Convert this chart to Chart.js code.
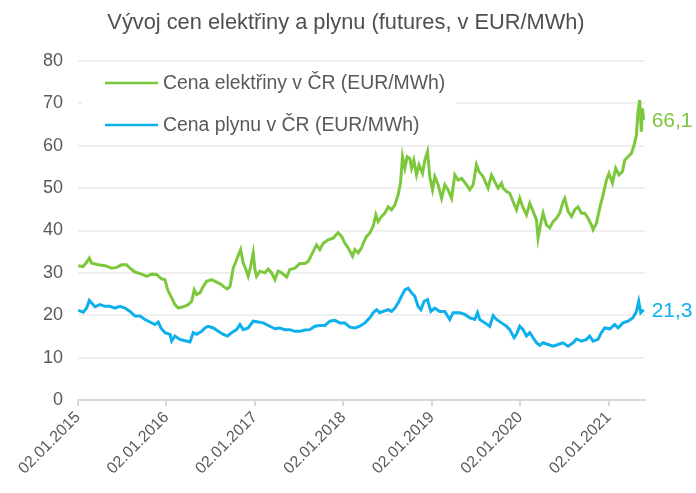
<!DOCTYPE html>
<html>
<head>
<meta charset="utf-8">
<script src="https://cdn.jsdelivr.net/npm/chart.js@4.4.1/dist/chart.umd.min.js"></script>
<style>
  html, body { margin: 0; padding: 0; background: #ffffff; }
  #wrap { width: 696px; height: 493px; }
</style>
</head>
<body>
<div id="wrap"><canvas id="c" width="696" height="493"></canvas></div>
<script>
// ---- Data (time as decimal year, values in EUR/MWh) ----
const chartTitle = "Vývoj cen elektřiny a plynu (futures, v EUR/MWh)";
const seriesNames = ["Cena elektřiny v ČR (EUR/MWh)", "Cena plynu v ČR (EUR/MWh)"];
const tickYears = [2015, 2016, 2017, 2018, 2019, 2020, 2021];
const tickLabels = ["02.01.2015", "02.01.2016", "02.01.2017", "02.01.2018", "02.01.2019", "02.01.2020", "02.01.2021"];

const elecT = [2015.003,2015.056,2015.098,2015.128,2015.155,2015.229,2015.305,2015.381,2015.437,2015.494,2015.550,2015.588,2015.644,2015.720,2015.776,2015.833,2015.889,2015.946,2015.983,
2016.014,2016.059,2016.096,2016.133,2016.190,2016.246,2016.285,2016.314,2016.341,2016.379,2016.416,2016.454,2016.511,2016.567,2016.624,2016.642,2016.687,2016.718,2016.755,2016.793,2016.838,2016.868,2016.898,2016.924,2016.951,2016.981,
2017.000,2017.019,2017.056,2017.113,2017.150,2017.189,2017.226,2017.263,2017.302,2017.358,2017.395,2017.452,2017.508,2017.565,2017.602,2017.641,2017.697,2017.734,2017.772,2017.828,2017.885,2017.941,2017.980,
2018.017,2018.054,2018.104,2018.130,2018.167,2018.206,2018.224,2018.262,2018.299,2018.337,2018.367,2018.393,2018.432,2018.469,2018.506,2018.545,2018.582,2018.619,2018.646,2018.669,2018.695,2018.721,2018.751,2018.771,2018.797,2018.827,2018.856,2018.895,2018.921,2018.951,2018.977,
2019.008,2019.034,2019.071,2019.110,2019.147,2019.184,2019.223,2019.260,2019.297,2019.336,2019.392,2019.429,2019.467,2019.505,2019.534,2019.580,2019.636,2019.675,2019.712,2019.749,2019.788,2019.806,2019.844,2019.881,2019.919,2019.957,2019.994,
2020.032,2020.070,2020.107,2020.145,2020.183,2020.201,2020.228,2020.258,2020.296,2020.333,2020.371,2020.409,2020.446,2020.484,2020.503,2020.540,2020.579,2020.616,2020.653,2020.692,2020.729,2020.766,2020.805,2020.823,2020.861,2020.898,2020.936,2020.974,
2021.003,2021.042,2021.079,2021.116,2021.155,2021.181,2021.218,2021.256,2021.286,2021.313,2021.331,2021.350,2021.369,2021.381,2021.395];
const elecV = [31.7,31.5,32.5,33.5,32.3,31.9,31.7,31.1,31.3,31.9,31.9,31.1,30.2,29.7,29.2,29.7,29.6,28.6,28.4,
26.0,24.1,22.5,21.7,22.0,22.5,23.3,26.0,24.9,25.3,26.8,28.0,28.4,27.8,27.2,26.8,26.2,26.8,31.1,33.1,35.5,32.3,30.8,29.2,31.5,34.7,
30.8,29.2,30.4,30.0,30.9,30.0,28.4,30.4,30.0,29.0,30.8,31.1,32.2,32.2,32.7,34.3,36.6,35.5,37.0,37.8,38.2,39.5,38.6,
37.0,35.9,33.9,35.5,34.7,35.9,37.0,38.6,39.4,41.0,43.7,42.1,43.3,44.1,45.6,44.9,46.0,48.4,51.2,57.4,54.7,57.4,57.0,54.7,56.6,53.1,55.5,53.5,56.6,58.6,52.7,
49.6,52.7,50.8,47.6,50.8,49.6,47.6,53.1,51.9,52.3,50.8,49.6,50.8,55.5,53.9,52.7,50.0,53.1,51.5,50.0,51.2,50.0,49.2,48.8,46.8,44.9,47.6,
45.3,43.7,46.4,44.5,42.5,38.2,41.3,44.1,41.3,40.6,42.1,42.9,44.1,46.8,47.6,44.5,43.3,44.9,45.6,44.1,44.1,42.9,41.3,40.2,41.7,45.3,48.4,51.9,
53.5,51.2,54.7,53.1,53.9,56.6,57.4,58.2,60.1,62.5,68.0,70.8,63.3,68.8,66.1];

const gasT = [2015.003,2015.060,2015.098,2015.128,2015.155,2015.192,2015.249,2015.305,2015.362,2015.418,2015.475,2015.531,2015.588,2015.644,2015.701,2015.757,2015.814,2015.870,2015.907,2015.938,2015.983,
2016.040,2016.059,2016.096,2016.153,2016.209,2016.266,2016.303,2016.341,2016.398,2016.435,2016.472,2016.529,2016.585,2016.642,2016.692,2016.737,2016.793,2016.831,2016.868,2016.924,2016.981,
2017.037,2017.094,2017.169,2017.226,2017.282,2017.339,2017.395,2017.452,2017.508,2017.565,2017.621,2017.678,2017.734,2017.791,2017.847,2017.904,2017.960,
2018.017,2018.073,2018.130,2018.186,2018.243,2018.299,2018.337,2018.375,2018.412,2018.450,2018.506,2018.545,2018.582,2018.619,2018.658,2018.695,2018.732,2018.771,2018.808,2018.845,2018.876,2018.913,2018.951,2018.989,
2019.034,2019.090,2019.147,2019.203,2019.241,2019.316,2019.373,2019.429,2019.486,2019.516,2019.542,2019.599,2019.655,2019.693,2019.731,2019.788,2019.844,2019.881,2019.930,2019.957,2019.994,
2020.032,2020.070,2020.107,2020.145,2020.183,2020.220,2020.258,2020.314,2020.371,2020.427,2020.484,2020.540,2020.597,2020.635,2020.692,2020.748,2020.785,2020.823,2020.879,2020.917,2020.955,
2021.011,2021.068,2021.105,2021.161,2021.218,2021.274,2021.313,2021.339,2021.362,2021.395];
const gasV = [21.2,20.7,21.7,23.5,22.9,22.0,22.5,22.1,22.1,21.7,22.1,21.7,20.9,19.8,19.8,19.0,18.4,17.8,18.4,17.0,15.9,
15.5,13.9,15.1,14.3,14.0,13.7,15.9,15.5,16.2,17.0,17.4,17.0,16.2,15.5,15.1,15.9,16.6,17.8,16.6,17.0,18.6,
18.4,18.2,17.4,16.8,17.0,16.6,16.6,16.2,16.2,16.5,16.6,17.4,17.6,17.6,18.6,18.8,18.2,
18.2,17.2,17.0,17.4,18.2,19.4,20.6,21.3,20.6,20.9,21.3,20.9,21.7,22.9,24.5,26.0,26.4,25.3,24.5,22.1,21.3,23.3,23.7,20.9,
21.7,20.9,20.9,19.0,20.6,20.6,20.2,19.4,19.0,20.6,19.0,18.2,17.4,19.9,19.0,18.2,17.4,16.6,14.7,15.5,17.4,
16.6,15.1,15.9,14.7,13.5,12.9,13.5,13.1,12.7,13.1,13.5,12.7,13.5,14.4,13.9,14.3,15.1,13.9,14.3,15.9,17.0,
16.8,17.8,17.0,18.2,18.6,19.4,20.9,23.3,20.6,21.3];

const colElec = "#7cc83d";
const colGas = "#0eb0ec";
const textCol = "#595959";

// ---- Plugins ----
const centeredTitle = {
  id: "centeredTitle",
  afterDraw(chart) {
    const { ctx, width } = chart;
    ctx.save();
    ctx.font = "21.8px 'Liberation Sans', Arial, sans-serif";
    ctx.fillStyle = "#4f4f4f";
    ctx.textAlign = "center";
    ctx.textBaseline = "middle";
    ctx.fillText(chartTitle, width / 2 - 2, 23);
    ctx.restore();
  }
};

const insideLegend = {
  id: "insideLegend",
  beforeDatasetsDraw(chart) {
    const { ctx, chartArea } = chart;
    const x0 = chartArea.left + 4, y0 = chartArea.top + 5;
    ctx.save();
    ctx.fillStyle = "#ffffff";
    ctx.fillRect(x0, y0, 374, 76);
    ctx.font = "19.4px 'Liberation Sans', Arial, sans-serif";
    ctx.textBaseline = "middle";
    chart.data.datasets.forEach((ds, i) => {
      const y = chartArea.top + 22 + i * 42;
      ctx.strokeStyle = ds.borderColor;
      ctx.lineWidth = 2.5;
      ctx.beginPath();
      ctx.moveTo(chartArea.left + 27, y);
      ctx.lineTo(chartArea.left + 80, y);
      ctx.stroke();
      ctx.fillStyle = textCol;
      ctx.fillText(ds.label, chartArea.left + 85, y + 1);
    });
    ctx.restore();
  }
};

const endLabels = {
  id: "endLabels",
  afterDatasetsDraw(chart) {
    const { ctx } = chart;
    ctx.save();
    ctx.font = "21px 'Liberation Sans', Arial, sans-serif";
    ctx.textBaseline = "middle";
    ctx.textAlign = "left";
    chart.data.datasets.forEach((ds, i) => {
      const meta = chart.getDatasetMeta(i);
      const pt = meta.data[meta.data.length - 1];
      const v = ds.data[ds.data.length - 1].y;
      ctx.fillStyle = ds.borderColor;
      ctx.fillText(v.toFixed(1).replace(".", ","), pt.x + 8, pt.y + 1);
    });
    ctx.restore();
  }
};

new Chart(document.getElementById("c"), {
  type: "line",
  data: {
    datasets: [
      { label: seriesNames[0], data: elecT.map((t, i) => ({ x: t, y: elecV[i] })), borderColor: colElec, backgroundColor: colElec, borderWidth: 3, pointRadius: 0, tension: 0 },
      { label: seriesNames[1], data: gasT.map((t, i) => ({ x: t, y: gasV[i] })), borderColor: colGas, backgroundColor: colGas, borderWidth: 3, pointRadius: 0, tension: 0 }
    ]
  },
  options: {
    responsive: false,
    animation: false,
    devicePixelRatio: 1,
    layout: { padding: { top: 61, left: 0, right: 51, bottom: 0 } },
    plugins: {
      legend: { display: false },
      tooltip: { enabled: false },
      title: { display: false }
    },
    scales: {
      x: {
        type: "linear",
        min: 2015,
        max: 2021.41,
        afterBuildTicks(scale) { scale.ticks = tickYears.map(v => ({ value: v })); },
        afterFit(scale) { scale.height = 93; },
        ticks: {
          autoSkip: false,
          maxRotation: 45,
          minRotation: 45,
          color: textCol,
          padding: 2,
          font: { family: "'Liberation Sans', Arial, sans-serif", size: 16 },
          callback(value) { const k = tickYears.indexOf(value); return k >= 0 ? tickLabels[k] : ""; }
        },
        grid: { display: true, drawOnChartArea: false, drawTicks: true, tickLength: 6, color: "#d9d9d9", lineWidth: 2 },
        border: { display: true, color: "#d9d9d9", width: 2 }
      },
      y: {
        min: 0,
        max: 80,
        afterFit(scale) { scale.width = 78; },
        ticks: {
          stepSize: 10,
          color: textCol,
          padding: 15,
          font: { family: "'Liberation Sans', Arial, sans-serif", size: 18 }
        },
        grid: { color: "#efefef", lineWidth: 2, drawTicks: false },
        border: { display: false }
      }
    }
  },
  plugins: [centeredTitle, insideLegend, endLabels]
});
</script>
</body>
</html>
